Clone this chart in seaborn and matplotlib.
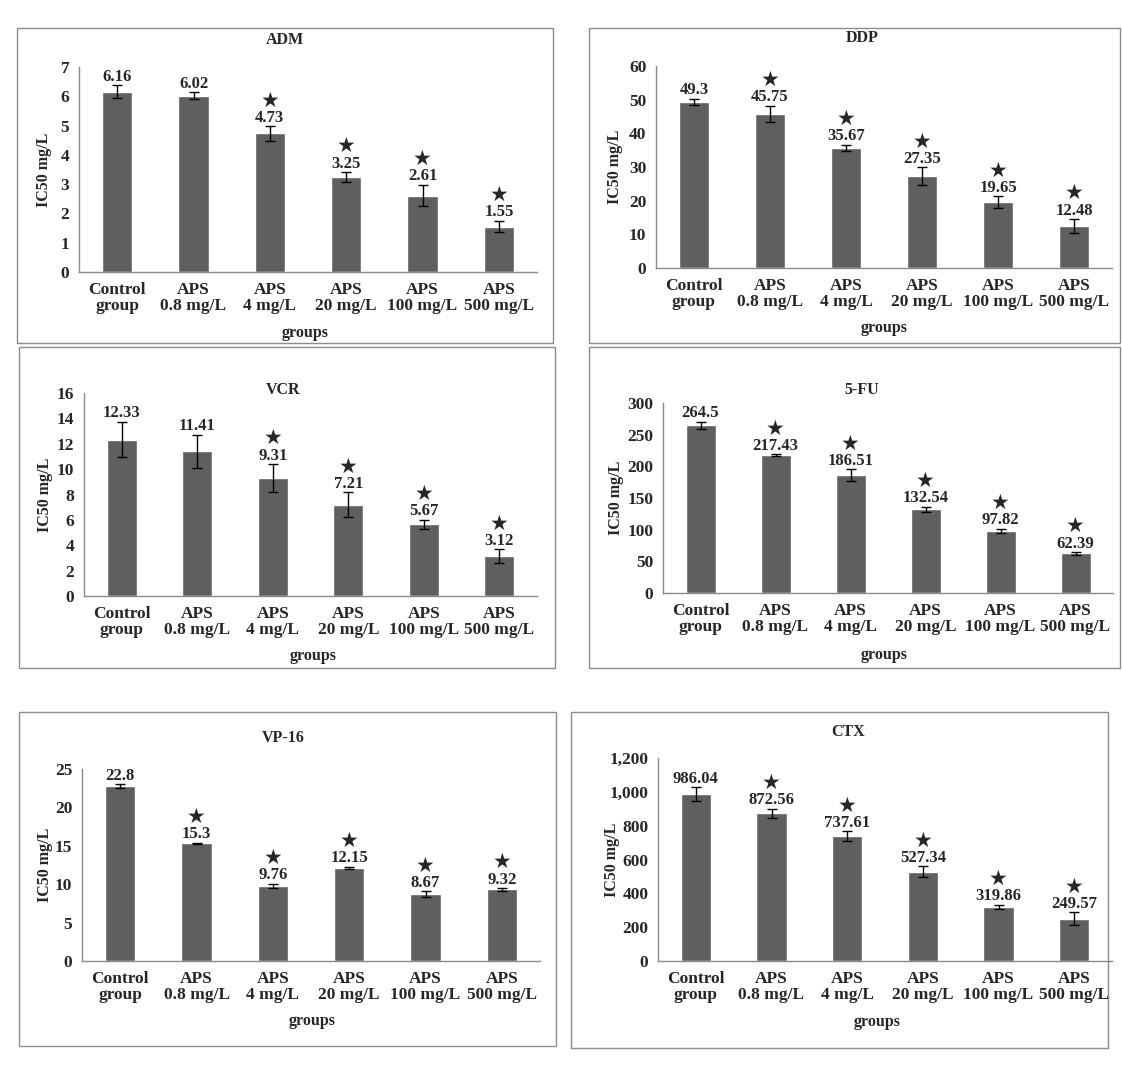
import matplotlib
matplotlib.use('Agg')
import matplotlib.pyplot as plt
import matplotlib.ticker as mticker
import seaborn as sns
import pandas as pd
from matplotlib.patches import Rectangle

groups = ['Control\ngroup', 'APS\n0.8 mg/L', 'APS\n4 mg/L', 'APS\n20 mg/L', 'APS\n100 mg/L', 'APS\n500 mg/L']

drugs = ['ADM', 'DDP', 'VCR', '5-FU', 'VP-16', 'CTX']

adm = [6.16, 6.02, 4.73, 3.25, 2.61, 1.55]
adm_err = [0.22, 0.12, 0.25, 0.17, 0.37, 0.20]
adm_star = [0, 0, 1, 1, 1, 1]

ddp = [49.3, 45.75, 35.67, 27.35, 19.65, 12.48]
ddp_err = [1.0, 2.5, 1.0, 2.6, 1.7, 2.1]
ddp_star = [0, 1, 1, 1, 1, 1]

vcr = [12.33, 11.41, 9.31, 7.21, 5.67, 3.12]
vcr_err = [1.4, 1.3, 1.1, 0.95, 0.35, 0.55]
vcr_star = [0, 0, 1, 1, 1, 1]

fu = [264.5, 217.43, 186.51, 132.54, 97.82, 62.39]
fu_err = [6.0, 1.5, 9.0, 4.0, 3.5, 2.5]
fu_star = [0, 1, 1, 1, 1, 1]

vp = [22.8, 15.3, 9.76, 12.15, 8.67, 9.32]
vp_err = [0.25, 0.12, 0.3, 0.12, 0.4, 0.2]
vp_star = [0, 1, 1, 1, 1, 1]

ctx = [986.04, 872.56, 737.61, 527.34, 319.86, 249.57]
ctx_err = [40, 28, 28, 32, 13, 38]
ctx_star = [0, 1, 1, 1, 1, 1]

ymax = [7, 60, 16, 300, 25, 1200]
ystep = [1, 10, 2, 50, 5, 200]

values = [adm, ddp, vcr, fu, vp, ctx]
errors = [adm_err, ddp_err, vcr_err, fu_err, vp_err, ctx_err]
stars = [adm_star, ddp_star, vcr_star, fu_star, vp_star, ctx_star]

# layout in pixels: axes (l, t, r, b), box (l, t, r, b), title (x, y), xlabel (x, y), ylabel x
layout = [
    ((79, 67, 537, 272), (17, 28, 553, 343), (285, 40), (305, 333), 44),
    ((656, 66, 1112, 268), (589, 28, 1120, 343), (862, 38), (884, 328), 615),
    ((84, 393, 537, 596), (19, 347, 555, 668), (283, 390), (313, 656), 45),
    ((663, 403, 1113, 593), (589, 347, 1120, 668), (862, 390), (884, 655), 616),
    ((82, 769, 540, 961), (19, 712, 556, 1046), (283, 738), (312, 1021), 45),
    ((658, 758, 1112, 961), (571, 712, 1108, 1048), (848, 732), (877, 1022), 612),
]

sns.set_style('white')
plt.rcParams['font.family'] = ['Liberation Serif', 'DejaVu Sans']
plt.rcParams['font.weight'] = 'bold'

W, H = 1122, 1068
fig = plt.figure(figsize=(W / 100, H / 100), dpi=100)
bar_color = '#5f5f5f'
axis_color = '#8a8a8a'

for k, drug in enumerate(drugs):
    (l, t, r, b), box, tpos, xpos, ylx = layout[k]
    ax = fig.add_axes([l / W, 1 - b / H, (r - l) / W, (b - t) / H])
    df = pd.DataFrame({'group': groups, 'ic50': values[k]})
    sns.barplot(data=df, x='group', y='ic50', color=bar_color, saturation=1,
                width=0.4, errorbar=None, ax=ax)
    ax.errorbar(range(len(groups)), values[k], yerr=errors[k], fmt='none',
                ecolor='black', elinewidth=1, capsize=3.5, capthick=1)
    for i, (v, e, s) in enumerate(zip(values[k], errors[k], stars[k])):
        ax.annotate(f'{v:g}', (i, v + e), xytext=(0, 6), textcoords='offset points',
                    ha='center', va='center', fontsize=12, fontweight='bold')
        if s:
            ax.annotate('★', (i, v + e), xytext=(0, 18.5), textcoords='offset points',
                        ha='center', va='center', fontsize=15, family='DejaVu Sans')
    ax.set_xlim(-0.5, 5.5)
    ax.set_ylim(0, ymax[k])
    ax.yaxis.set_major_locator(mticker.MultipleLocator(ystep[k]))
    if drug == 'CTX':
        ax.yaxis.set_major_formatter(mticker.StrMethodFormatter('{x:,.0f}'))
    for side in ['top', 'right']:
        ax.spines[side].set_visible(False)
    for side in ['left', 'bottom']:
        ax.spines[side].set_color(axis_color)
        ax.spines[side].set_linewidth(1)
    ax.tick_params(axis='y', length=4, width=1, color=axis_color, labelsize=12.5, pad=3)
    ax.tick_params(axis='x', length=0, labelsize=12.5, pad=7)
    for lbl in ax.get_xticklabels():
        lbl.set_linespacing(1.0)
        lbl.set_fontweight('bold')
    for lbl in ax.get_yticklabels():
        lbl.set_fontweight('bold')
    ax.set_xlabel('')
    ax.set_ylabel('IC50 mg/L', fontsize=11.5, fontweight='bold')
    ax.yaxis.set_label_coords((ylx - l) / (r - l), 0.5)
    ax.yaxis.label.set_va('center')

    fig.text(tpos[0] / W, 1 - tpos[1] / H, drug, ha='center', va='center',
             fontsize=11.5, fontweight='bold')
    fig.text(xpos[0] / W, 1 - xpos[1] / H, 'groups', ha='center', va='center',
             fontsize=11.5, fontweight='bold')
    bl, bt, br, bb = box
    fig.add_artist(Rectangle((bl / W, 1 - bb / H), (br - bl) / W, (bb - bt) / H,
                             transform=fig.transFigure, fill=False,
                             edgecolor='#8c8c8c', linewidth=1))

fig.savefig('out.png', dpi=100, facecolor='white')
